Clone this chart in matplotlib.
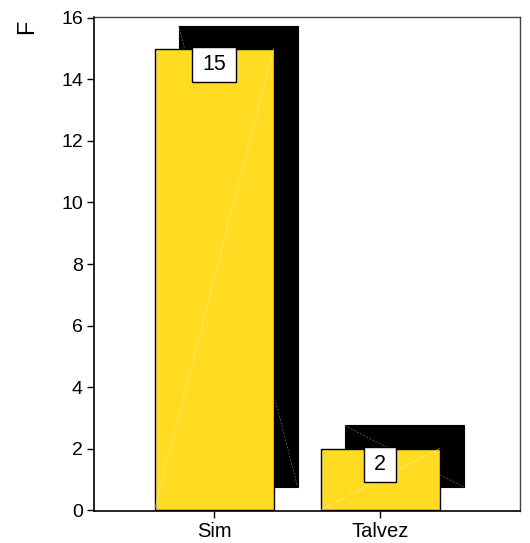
import matplotlib
matplotlib.use("Agg")
import matplotlib.pyplot as plt
from matplotlib.patches import Rectangle

categories = ["Sim", "Talvez"]
counts = [15, 2]
y_ticks = [0, 2, 4, 6, 8, 10, 12, 14, 16]
y_label = "F"

bar_color = "#FFDC22"
shadow_color = "#000000"
bar_width = 0.717
shadow_dx = 0.145   # shadow offset in category units
shadow_dy = 0.75    # shadow offset in value units

plt.rcParams["font.family"] = ["Liberation Sans", "DejaVu Sans"]
FS = 14.5

fig = plt.figure(figsize=(5.30, 5.43), dpi=100)
ax = fig.add_axes([94 / 530, 1 - 511 / 543, (520 - 94) / 530, (511 - 17) / 543])

xs = list(range(len(categories)))
for x, v in zip(xs, counts):
    # drop shadow
    sx0 = x - bar_width / 2 + shadow_dx
    ax.add_patch(Rectangle((sx0, shadow_dy), bar_width, v, facecolor=shadow_color,
                           edgecolor=shadow_color, lw=0.8, zorder=1))
    ax.plot([sx0, sx0 + bar_width], [v + shadow_dy, shadow_dy], color="#6a6a6a",
            lw=0.5, ls=(0, (3, 2)), zorder=1.5)

bars = ax.bar(xs, counts, width=bar_width, color=bar_color, edgecolor="black",
              linewidth=1.0, zorder=2)
for x, v in zip(xs, counts):
    x0 = x - bar_width / 2
    ax.plot([x0, x0 + bar_width], [0, v], color="#FFF2B0", lw=0.5, alpha=0.6, zorder=2.5)

for x, v in zip(xs, counts):
    ax.text(x, v - 0.52, str(v), ha="center", va="center", fontsize=15.5, zorder=4,
            bbox=dict(boxstyle="square,pad=0.48", facecolor="white", edgecolor="black",
                      linewidth=1.0, mutation_aspect=0.68))

ax.set_xlim(-0.723, 1.843)
ax.set_ylim(-0.03, 16.03)
ax.set_xticks(xs)
ax.set_xticklabels(categories, fontsize=FS)
ax.set_yticks(y_ticks)
ax.set_yticklabels([str(t) for t in y_ticks], fontsize=14)
ax.tick_params(axis="both", direction="out", length=5, width=1, color="black", pad=3)

for side in ("left", "bottom"):
    ax.spines[side].set_color("black")
    ax.spines[side].set_linewidth(1.2)
for side in ("top", "right"):
    ax.spines[side].set_color("#444444")
    ax.spines[side].set_linewidth(1.0)

fig.text(27 / 530, 1 - 27 / 543, y_label, rotation=90, ha="center", va="center", fontsize=17)

fig.savefig("out.png", dpi=100)
